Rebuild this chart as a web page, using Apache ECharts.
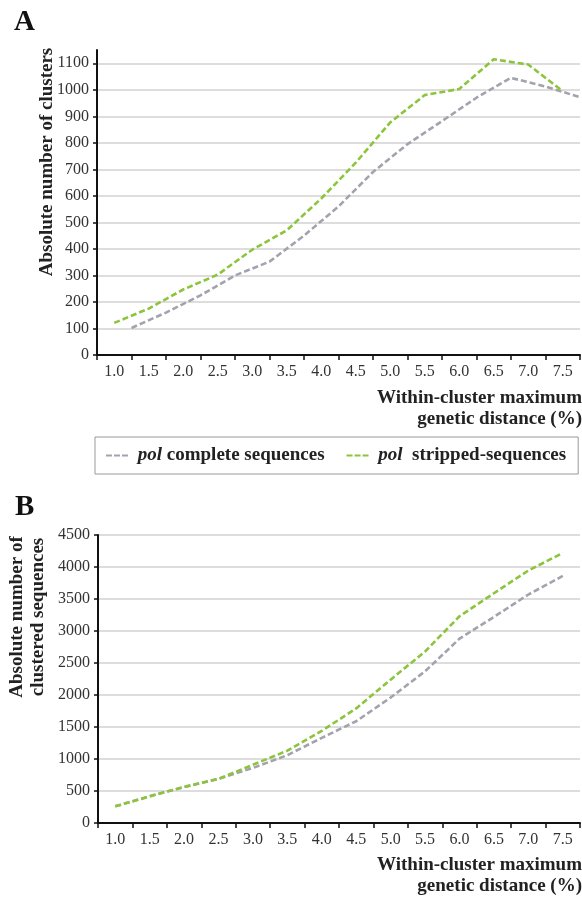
<!DOCTYPE html>
<html>
<head>
<meta charset="utf-8">
<script src="https://cdn.jsdelivr.net/npm/echarts@6/dist/echarts.min.js"></script>
<style>
  html, body { margin: 0; padding: 0; background: #fff; }
  #main { width: 582px; height: 897px; }
</style>
</head>
<body>
<div id="main"></div>
<script>
// within-cluster maximum genetic distance (%)
var categories = ['1.0', '1.5', '2.0', '2.5', '3.0', '3.5', '4.0', '4.5', '5.0', '5.5', '6.0', '6.5', '7.0', '7.5'];
var distances = categories.map(Number);
// panel A: absolute number of clusters
var clustersComplete = [102, 160, 225, 300, 352, 450, 560, 690, 795, 882, 970, 1045, 1012, 972];
var clustersStripped = [121, 175, 247, 303, 397, 470, 590, 725, 877, 980, 1003, 1115, 1095, 995];
// in panel A the complete-sequence line sits half a category to the right
var completeShiftA = 0.25;
// panel B: absolute number of clustered sequences
var seqComplete = [260, 420, 560, 690, 860, 1060, 1330, 1590, 1960, 2370, 2880, 3220, 3570, 3860];
var seqStripped = [260, 415, 565, 690, 910, 1130, 1440, 1790, 2240, 2680, 3230, 3590, 3945, 4220];

var nameComplete = 'pol complete sequences';
var nameStripped = 'pol stripped-sequences';
var grayColor = '#a3a3ae';
var greenColor = '#8cc43c';
var serif = '"Liberation Serif", "DejaVu Serif", serif';
var titleFont = 'bold 19px ' + serif;

function pairs(values, shift) {
    return values.map(function (v, i) { return [distances[i] + shift, v]; });
}

function catAxis(gridIndex) {
    return {
        type: 'category', gridIndex: gridIndex, data: categories, boundaryGap: true,
        axisLine: { lineStyle: { color: '#111', width: 2 } },
        axisTick: { show: true, length: 5, interval: 0, lineStyle: { color: '#111', width: 1.5 } },
        axisLabel: { interval: 0, margin: 9, color: '#333', fontFamily: serif, fontSize: 16 },
        splitLine: { show: false }
    };
}

function hiddenAxis(gridIndex) {
    return { type: 'value', gridIndex: gridIndex, min: 0.75, max: 7.75, show: false, splitLine: { show: false } };
}

function valAxis(gridIndex, max, interval) {
    var even = max % interval === 0;
    return {
        type: 'value', gridIndex: gridIndex, min: 0, max: max, interval: interval,
        axisLine: { show: true, lineStyle: { color: '#111', width: 2 } },
        axisTick: { show: true, length: 4, lineStyle: { color: '#111', width: 1.5 } },
        axisLabel: {
            margin: 8, color: '#333', fontFamily: serif, fontSize: 16, showMaxLabel: even,
            formatter: function (v) { return String(v); }
        },
        splitLine: { show: true, showMaxLine: even, lineStyle: { color: '#d2d2d2', width: 1.5 } }
    };
}

function lineSeries(name, color, xi, yi, data) {
    return {
        name: name, type: 'line', xAxisIndex: xi, yAxisIndex: yi, data: data,
        symbol: 'none', smooth: false,
        lineStyle: { color: color, width: 2.6, type: [6, 3] },
        itemStyle: { color: color }
    };
}

var myChart = echarts.init(document.getElementById('main'));
myChart.setOption({
    animation: false,
    backgroundColor: '#fff',
    legend: {
        data: [nameComplete, nameStripped],
        left: 95, top: 437,
        padding: [9, 12, 9, 11],
        itemGap: 22, itemWidth: 22, itemHeight: 3,
        icon: 'path://M0,0h6v2h-6z M8,0h6v2h-6z M16,0h6v2h-6z',
        borderColor: '#999', borderWidth: 1,
        textStyle: {
            fontFamily: serif, fontWeight: 'bold', fontSize: 19, color: '#222',
            rich: { i: { fontFamily: serif, fontStyle: 'italic', fontWeight: 'bold', fontSize: 19, color: '#222' } }
        },
        formatter: function (name) {
            return name === nameStripped ? ' {i|pol}  stripped-sequences' : ' {i|pol} complete sequences';
        }
    },
    grid: [
        { left: 97, right: 2, top: 50, height: 305 },
        { left: 98, right: 2, top: 535, height: 288 }
    ],
    xAxis: [catAxis(0), hiddenAxis(0), catAxis(1), hiddenAxis(1)],
    yAxis: [valAxis(0, 1150, 100), valAxis(1, 4500, 500)],
    series: [
        lineSeries(nameComplete, grayColor, 1, 0, pairs(clustersComplete, completeShiftA)),
        lineSeries(nameStripped, greenColor, 1, 0, pairs(clustersStripped, 0)),
        lineSeries(nameComplete, grayColor, 3, 1, pairs(seqComplete, 0)),
        lineSeries(nameStripped, greenColor, 3, 1, pairs(seqStripped, 0))
    ],
    graphic: [
        { type: 'text', x: 14, y: 8, style: { text: 'A', font: 'bold 29px ' + serif, fill: '#111' } },
        { type: 'text', x: 15, y: 493, style: { text: 'B', font: 'bold 29px ' + serif, fill: '#111' } },
        {
            type: 'text', x: 47, y: 162, rotation: Math.PI / 2,
            style: { text: 'Absolute number of clusters', font: titleFont, fill: '#222', align: 'center', verticalAlign: 'middle' }
        },
        {
            type: 'text', x: 28, y: 617, rotation: Math.PI / 2,
            style: { text: 'Absolute number of\nclustered sequences', font: titleFont, fill: '#222', align: 'center', verticalAlign: 'middle', lineHeight: 21 }
        },
        {
            type: 'text', x: 582, y: 409,
            style: { text: 'Within-cluster maximum\ngenetic distance (%)', font: titleFont, fill: '#222', align: 'right', verticalAlign: 'middle', lineHeight: 21 }
        },
        {
            type: 'text', x: 582, y: 876,
            style: { text: 'Within-cluster maximum\ngenetic distance (%)', font: titleFont, fill: '#222', align: 'right', verticalAlign: 'middle', lineHeight: 21 }
        }
    ]
});
</script>
</body>
</html>
